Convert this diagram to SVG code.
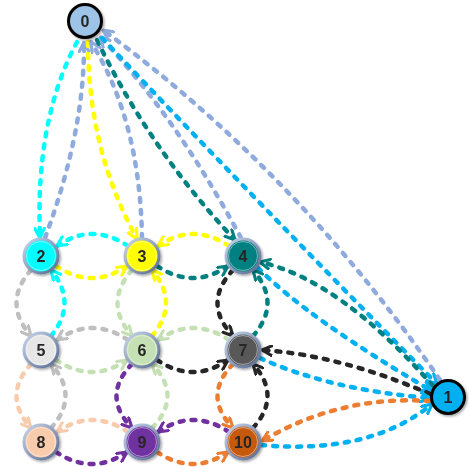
<svg xmlns="http://www.w3.org/2000/svg" width="469" height="467" viewBox="0 0 469 467">
<style>
.e{fill:none;stroke-width:4.5;stroke-dasharray:4 8;stroke-linecap:round}
.lb{stroke:#8faadc}.cy{stroke:#00ffff}.ye{stroke:#ffff00}.te{stroke:#008080}.bl{stroke:#00b0f0}
.gr{stroke:#bfbfbf}.lg{stroke:#c5e0b4}.bk{stroke:#262626}.pe{stroke:#f8cbad}.pu{stroke:#7030a0}.or{stroke:#ed7d31}
.m{fill:none;stroke-width:2.6;stroke-linecap:round;stroke-linejoin:round}
.n{stroke:url(#ring);stroke-width:3}
.k{fill:none;stroke:#fff;stroke-opacity:.45;stroke-width:1}
.t{font-family:"Liberation Sans",Arial,sans-serif;font-weight:bold;font-size:16px;fill:#262626;text-anchor:middle;dominant-baseline:central}
.big{stroke:#000;stroke-width:3}
</style>
<defs>
<linearGradient id="ring" x1="0" y1="0" x2="1" y2="1"><stop offset="0" stop-color="#c9d6ee"/><stop offset="1" stop-color="#56698f"/></linearGradient>
<filter id="sh" x="-30%" y="-30%" width="160%" height="160%"><feDropShadow dx="1.5" dy="1.5" stdDeviation="1.2" flood-color="#000" flood-opacity="0.35"/></filter>
<marker id="a-lb" viewBox="0 0 10 10" refX="9" refY="5" markerUnits="userSpaceOnUse" markerWidth="12" markerHeight="12" orient="auto"><path class="m lb" d="M1,1 L9,5 L1,9"/></marker>
<marker id="a-cy" viewBox="0 0 10 10" refX="9" refY="5" markerUnits="userSpaceOnUse" markerWidth="12" markerHeight="12" orient="auto"><path class="m cy" d="M1,1 L9,5 L1,9"/></marker>
<marker id="a-ye" viewBox="0 0 10 10" refX="9" refY="5" markerUnits="userSpaceOnUse" markerWidth="12" markerHeight="12" orient="auto"><path class="m ye" d="M1,1 L9,5 L1,9"/></marker>
<marker id="a-te" viewBox="0 0 10 10" refX="9" refY="5" markerUnits="userSpaceOnUse" markerWidth="12" markerHeight="12" orient="auto"><path class="m te" d="M1,1 L9,5 L1,9"/></marker>
<marker id="a-bl" viewBox="0 0 10 10" refX="9" refY="5" markerUnits="userSpaceOnUse" markerWidth="12" markerHeight="12" orient="auto"><path class="m bl" d="M1,1 L9,5 L1,9"/></marker>
<marker id="a-gr" viewBox="0 0 10 10" refX="9" refY="5" markerUnits="userSpaceOnUse" markerWidth="12" markerHeight="12" orient="auto"><path class="m gr" d="M1,1 L9,5 L1,9"/></marker>
<marker id="a-lg" viewBox="0 0 10 10" refX="9" refY="5" markerUnits="userSpaceOnUse" markerWidth="12" markerHeight="12" orient="auto"><path class="m lg" d="M1,1 L9,5 L1,9"/></marker>
<marker id="a-bk" viewBox="0 0 10 10" refX="9" refY="5" markerUnits="userSpaceOnUse" markerWidth="12" markerHeight="12" orient="auto"><path class="m bk" d="M1,1 L9,5 L1,9"/></marker>
<marker id="a-pe" viewBox="0 0 10 10" refX="9" refY="5" markerUnits="userSpaceOnUse" markerWidth="12" markerHeight="12" orient="auto"><path class="m pe" d="M1,1 L9,5 L1,9"/></marker>
<marker id="a-pu" viewBox="0 0 10 10" refX="9" refY="5" markerUnits="userSpaceOnUse" markerWidth="12" markerHeight="12" orient="auto"><path class="m pu" d="M1,1 L9,5 L1,9"/></marker>
<marker id="a-or" viewBox="0 0 10 10" refX="9" refY="5" markerUnits="userSpaceOnUse" markerWidth="12" markerHeight="12" orient="auto"><path class="m or" d="M1,1 L9,5 L1,9"/></marker>
</defs>
<rect width="469" height="467" fill="#fff"/>
<g id="connectors">
<path class="e cy" marker-end="url(#a-cy)" d="M77 42 Q35 120 40 238"/>
<path class="e lb" marker-end="url(#a-lb)" d="M45 238 Q85 130 84 42"/>
<path class="e ye" marker-end="url(#a-ye)" d="M88 42 Q88 150 137 239"/>
<path class="e lb" marker-end="url(#a-lb)" d="M142 238 Q140 120 91 42"/>
<path class="e te" marker-end="url(#a-te)" d="M97 40 Q150 150 235 240"/>
<path class="e lb" marker-end="url(#a-lb)" d="M241 238 Q175 115 100 37"/>
<path class="e bl" marker-end="url(#a-bl)" d="M102 38 Q260 205 437 384"/>
<path class="e lb" marker-end="url(#a-lb)" d="M440 380 Q300 175 103 30"/>
<path class="e te" marker-end="url(#a-te)" d="M433 386 Q340 280 260 262"/>
<path class="e bl" marker-end="url(#a-bl)" d="M258 268 Q310 320 432 391"/>
<path class="e bk" marker-end="url(#a-bk)" d="M430 394 Q340 355 262 350"/>
<path class="e bl" marker-end="url(#a-bl)" d="M260 358 Q330 390 430 398"/>
<path class="e or" marker-end="url(#a-or)" d="M430 401 Q340 395 262 441"/>
<path class="e bl" marker-end="url(#a-bl)" d="M261 445 Q370 455 432 404"/>
<path class="e cy" marker-end="url(#a-cy)" d="M128 246 Q92 222 57 246"/>
<path class="e ye" marker-end="url(#a-ye)" d="M56 266 Q92 290 127 266"/>
<path class="e ye" marker-end="url(#a-ye)" d="M229 246 Q193 222 158 246"/>
<path class="e te" marker-end="url(#a-te)" d="M157 266 Q193 290 228 266"/>
<path class="e gr" marker-end="url(#a-gr)" d="M128 340 Q92 316 57 340"/>
<path class="e lg" marker-end="url(#a-lg)" d="M56 360 Q92 384 127 360"/>
<path class="e lg" marker-end="url(#a-lg)" d="M229 340 Q193 316 158 340"/>
<path class="e bk" marker-end="url(#a-bk)" d="M157 360 Q193 384 228 360"/>
<path class="e pe" marker-end="url(#a-pe)" d="M128 432 Q92 408 57 432"/>
<path class="e pu" marker-end="url(#a-pu)" d="M56 452 Q92 476 127 452"/>
<path class="e pu" marker-end="url(#a-pu)" d="M229 432 Q193 408 158 432"/>
<path class="e or" marker-end="url(#a-or)" d="M157 452 Q193 476 228 452"/>
<path class="e gr" marker-end="url(#a-gr)" d="M31 270 Q2 303 31 336"/>
<path class="e cy" marker-end="url(#a-cy)" d="M51 336 Q78 303 51 270"/>
<path class="e lg" marker-end="url(#a-lg)" d="M132 270 Q103 303 132 336"/>
<path class="e ye" marker-end="url(#a-ye)" d="M152 336 Q180 303 152 270"/>
<path class="e bk" marker-end="url(#a-bk)" d="M233 270 Q202 303 233 336"/>
<path class="e te" marker-end="url(#a-te)" d="M253 336 Q282 303 253 270"/>
<path class="e pe" marker-end="url(#a-pe)" d="M31 364 Q2 396 31 428"/>
<path class="e gr" marker-end="url(#a-gr)" d="M51 428 Q80 396 51 364"/>
<path class="e pu" marker-end="url(#a-pu)" d="M132 364 Q101 396 132 428"/>
<path class="e lg" marker-end="url(#a-lg)" d="M152 428 Q183 396 152 364"/>
<path class="e or" marker-end="url(#a-or)" d="M233 364 Q202 396 233 428"/>
<path class="e bk" marker-end="url(#a-bk)" d="M253 428 Q282 396 253 364"/>
</g>
<g id="node-0" filter="url(#sh)"><circle cx="85" cy="21" r="16.5" fill="#9dc3e6" class="big"/><text class="t" x="85" y="21">0</text></g>
<g id="node-1" filter="url(#sh)"><circle cx="448" cy="397" r="16.5" fill="#00b0f0" class="big"/><text class="t" x="448" y="397">1</text></g>
<g id="node-2" filter="url(#sh)"><circle cx="41" cy="256" r="17" fill="#00ffff" class="n"/><circle cx="41" cy="256" r="14.5" class="k"/><text class="t" x="41" y="256">2</text></g>
<g id="node-3" filter="url(#sh)"><circle cx="142" cy="256" r="17" fill="#ffff00" class="n"/><circle cx="142" cy="256" r="14.5" class="k"/><text class="t" x="142" y="256">3</text></g>
<g id="node-4" filter="url(#sh)"><circle cx="243" cy="256" r="17" fill="#008080" class="n"/><circle cx="243" cy="256" r="14.5" class="k"/><text class="t" x="243" y="256">4</text></g>
<g id="node-5" filter="url(#sh)"><circle cx="41" cy="350" r="17" fill="#e7e6e6" class="n"/><circle cx="41" cy="350" r="14.5" class="k"/><text class="t" x="41" y="350">5</text></g>
<g id="node-6" filter="url(#sh)"><circle cx="142" cy="350" r="17" fill="#c5e0b4" class="n"/><circle cx="142" cy="350" r="14.5" class="k"/><text class="t" x="142" y="350">6</text></g>
<g id="node-7" filter="url(#sh)"><circle cx="243" cy="350" r="17" fill="#595959" class="n"/><circle cx="243" cy="350" r="14.5" class="k"/><text class="t" x="243" y="350">7</text></g>
<g id="node-8" filter="url(#sh)"><circle cx="41" cy="442" r="17" fill="#f8cbad" class="n"/><circle cx="41" cy="442" r="14.5" class="k"/><text class="t" x="41" y="442">8</text></g>
<g id="node-9" filter="url(#sh)"><circle cx="142" cy="442" r="17" fill="#7030a0" class="n"/><circle cx="142" cy="442" r="14.5" class="k"/><text class="t" x="142" y="442">9</text></g>
<g id="node-10" filter="url(#sh)"><circle cx="243" cy="442" r="17" fill="#c55a11" class="n"/><circle cx="243" cy="442" r="14.5" class="k"/><text class="t" x="243" y="442">10</text></g>
</svg>
